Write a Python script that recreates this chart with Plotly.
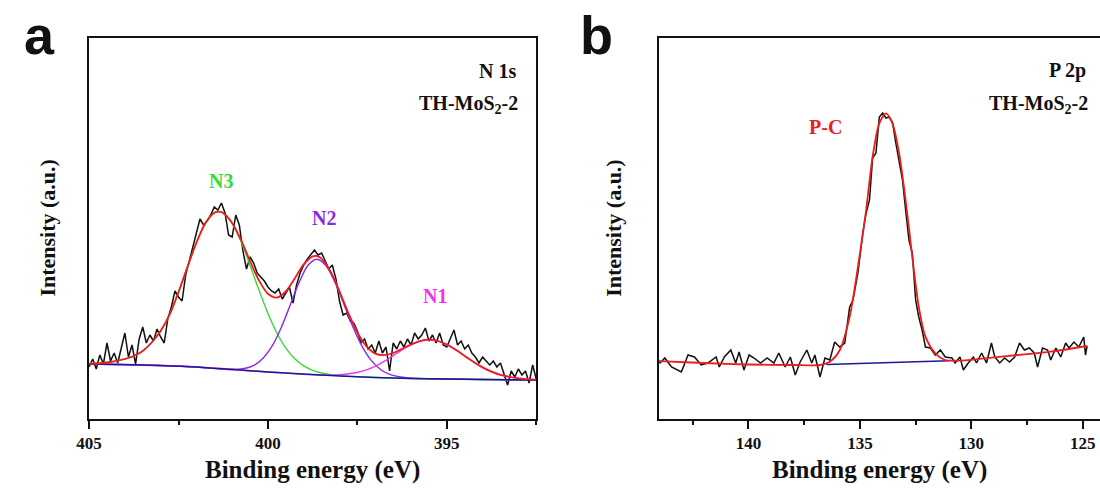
import numpy as np
import plotly.graph_objects as go

W, H = 1100, 492

# ---------------- Panel a : N 1s ----------------
a_energy = np.round(np.arange(405.0, 392.45, -0.1), 2)
a_counts = [52, 60, 50, 64, 55, 76, 58, 66, 56, 72,
            86, 62, 74, 55, 80, 92, 76, 84, 78, 90,
            82, 76, 100, 112, 128, 122, 118, 144, 158, 172,
            186, 200, 194, 198, 204, 212, 209, 216, 206, 184,
            182, 204, 194, 168, 150, 162, 156, 146, 142, 138,
            132, 128, 126, 130, 120, 126, 132, 116, 134, 146,
            154, 160, 164, 169, 164, 166, 158, 150, 154, 140,
            118, 104, 106, 98, 96, 88, 76, 80, 70, 74,
            66, 78, 66, 72, 48, 76, 70, 78, 72, 80,
            74, 86, 80, 84, 91, 78, 84, 76, 86, 74,
            72, 80, 89, 74, 78, 70, 74, 66, 62, 56,
            62, 58, 54, 58, 52, 56, 46, 34, 48, 42,
            50, 44, 48, 36, 54, 40]

a_base_e = [405.0, 404.0, 403.0, 402.0, 401.0, 400.0, 399.0, 398.0, 397.0, 396.0, 395.0, 394.0, 392.5]
a_base_v = [55, 54.5, 53.5, 52, 49.5, 47, 45, 43, 41.5, 40.5, 40, 39.5, 39]

a_n3_e = [405.0, 404.5, 404.0, 403.75, 403.5, 403.25, 403.0, 402.75, 402.5, 402.25, 402.0, 401.75,
          401.5, 401.37, 401.25, 401.0, 400.75, 400.5, 400.25, 400.0, 399.75, 399.5, 399.25, 399.0,
          398.75, 398.5, 398.25, 398.0, 397.5, 397.0, 396.0, 395.0, 394.0, 392.5]
a_n3_v = [55.2, 56.5, 60, 63, 68, 76.5, 88, 104.3, 126.9, 152, 176.3, 195.7,
          206.2, 207.4, 205.9, 195.5, 177.2, 153.6, 128.8, 105.5, 86, 70.9, 60.2, 53.1,
          48.7, 46, 44.4, 43.4, 42.3, 41.5, 40.5, 40, 39.5, 39]

a_n2_e = [405.0, 403.0, 402.0, 401.13, 400.63, 400.38, 400.13, 399.88, 399.63, 399.38, 399.13, 398.88,
          398.63, 398.38, 398.13, 397.88, 397.63, 397.38, 397.13, 396.88, 396.63, 396.13, 395.5, 394.0, 392.5]
a_n2_v = [55, 53.5, 52, 49.5, 50.7, 53.9, 61.1, 73.1, 91.3, 113.7, 136.5, 153.7,
          159.8, 153.5, 137, 115, 92.6, 73.4, 59.4, 50.3, 45.1, 41.2, 40.3, 39.5, 39]

a_n1_e = [405.0, 402.0, 400.0, 398.48, 397.98, 397.48, 397.23, 396.98, 396.73, 396.48, 396.23, 395.98,
          395.73, 395.48, 395.23, 394.98, 394.73, 394.48, 394.23, 393.98, 393.73, 393.48, 392.98, 392.5]
a_n1_v = [55, 52, 47, 43.7, 44.4, 46.8, 49.4, 53.2, 58.1, 63.8, 69.6, 74.6,
          78.1, 79.2, 77.8, 74.1, 68.8, 62.5, 56.5, 51.2, 47, 43.9, 40.6, 39.3]

a_fit_e = [405.0, 404.5, 404.0, 403.75, 403.5, 403.25, 403.0, 402.75, 402.5, 402.25, 402.0, 401.75,
           401.5, 401.37, 401.25, 401.0, 400.75, 400.5, 400.25, 400.0, 399.75, 399.5, 399.25, 399.0,
           398.75, 398.63, 398.5, 398.25, 398.0, 397.75, 397.5, 397.25, 397.0, 396.75, 396.5, 396.25,
           396.0, 395.75, 395.48, 395.25, 395.0, 394.75, 394.5, 394.25, 394.0, 393.75, 393.5, 393.0, 392.5]
a_fit_v = [55.2, 56.5, 60, 63, 68, 76.5, 88, 104.3, 126.9, 152, 176.3, 195.7,
           206.2, 207.4, 206.1, 196.1, 178.9, 158, 138.5, 125.2, 121.4, 127.5, 140.6, 154.6,
           162.6, 163, 160.2, 147.5, 127.7, 105.8, 86.5, 72.8, 65.4, 63.9, 66, 70.2,
           74.5, 77.9, 79.3, 78, 74.5, 69.2, 63.1, 57, 51.6, 47.3, 44.1, 40.7, 39.3]

# ---------------- Panel b : P 2p ----------------
b_energy = [144.10, 143.97, 143.75, 143.45, 143.01, 142.71, 142.42, 142.12, 141.82, 141.45, 141.31, 141.08,
            140.79, 140.57, 140.42, 140.20, 139.97, 139.75, 139.46, 139.16, 138.86, 138.64, 138.35, 138.12,
            137.90, 137.68, 137.38, 137.16, 137.02, 136.79, 136.57, 136.35, 136.13, 135.91, 135.68, 135.46,
            135.31, 135.09, 134.87, 134.72, 134.57, 134.43, 134.28, 134.13, 133.98, 133.83, 133.69, 133.54,
            133.39, 133.24, 133.09, 132.95, 132.80, 132.65, 132.50, 132.36, 132.21, 132.06, 131.84, 131.62,
            131.39, 131.17, 130.87, 130.73, 130.51, 130.36, 130.14, 129.91, 129.77, 129.54, 129.32, 129.10,
            128.95, 128.73, 128.51, 128.29, 128.06, 127.84, 127.62, 127.40, 127.18, 127.03, 126.81, 126.58,
            126.44, 126.21, 125.99, 125.77, 125.62, 125.40, 125.18, 124.96, 124.88, 124.81]
b_counts = [62, 56, 61, 52, 47, 64, 62, 54, 56, 62, 52, 62,
            69, 56, 67, 49, 64, 61, 56, 61, 56, 66, 52, 62,
            44, 57, 69, 56, 64, 42, 61, 59, 77, 72, 76, 112,
            119, 146, 186, 206, 219, 261, 266, 302, 306, 301, 302, 297,
            276, 259, 239, 209, 179, 166, 119, 102, 89, 72, 71, 64,
            69, 62, 61, 56, 62, 49, 56, 62, 56, 66, 56, 76,
            62, 56, 61, 57, 62, 76, 69, 71, 66, 52, 71, 69,
            59, 71, 62, 76, 71, 77, 72, 82, 64, 73]

b_fit_e = [144.1, 142.0, 140.0, 138.0, 136.8, 136.35, 135.9, 135.46, 135.02, 134.72, 134.43, 134.13,
           133.83, 133.54, 133.24, 132.95, 132.65, 132.36, 132.06, 131.62, 131.18, 130.59, 129.40, 127.92,
           126.44, 124.81]
b_fit_v = [58, 56, 54.5, 54, 54, 57.3, 69, 102.3, 162.3, 209, 262.3, 295.7,
           305.7, 295.7, 265.7, 219, 162.3, 112.3, 82.3, 65.7, 59, 58.3, 60.7, 64,
           67.3, 73]

b_base_e = [136.5, 131.0]
b_base_v = [54.5, 58.3]

# ---------------- colours ----------------
C_DATA = "#111111"
C_FIT = "#ee1c1c"
C_BASE = "#1a1a96"
C_N3 = "#33dd33"
C_N2 = "#8a2be2"
C_N1 = "#f033f0"

SERIF = "Liberation Serif"
SANS = "Liberation Sans"

fig = go.Figure()


def line(x, y, color, width, xa, ya, shape="linear"):
    kw = dict(color=color, width=width, shape=shape)
    if shape == "spline":
        kw["smoothing"] = 0.8
    fig.add_trace(go.Scatter(x=x, y=y, mode="lines", line=kw,
                             xaxis=xa, yaxis=ya, showlegend=False, hoverinfo="skip"))


# panel a
line(a_energy, a_counts, C_DATA, 1.5, "x", "y")
line(a_n3_e, a_n3_v, C_N3, 1.4, "x", "y", "spline")
line(a_n2_e, a_n2_v, C_N2, 1.4, "x", "y", "spline")
line(a_n1_e, a_n1_v, C_N1, 1.4, "x", "y", "spline")
line(a_base_e, a_base_v, C_BASE, 1.5, "x", "y", "spline")
line(a_fit_e, a_fit_v, C_FIT, 1.8, "x", "y", "spline")

# panel b
line(b_energy, b_counts, C_DATA, 1.5, "x2", "y2")
line(b_base_e, b_base_v, C_BASE, 1.5, "x2", "y2")
line(b_fit_e, b_fit_v, C_FIT, 1.8, "x2", "y2", "spline")

ytop, ybot = 38, 419
ydom = [1 - ybot / H, 1 - ytop / H]

tickfont = dict(family=SERIF, size=17, color="#111", weight="bold")
common_x = dict(showline=True, linecolor="#111", linewidth=2, ticks="outside", ticklen=8,
                tickwidth=2, tickcolor="#111", showgrid=False, zeroline=False, tickfont=tickfont,
                minor=dict(ticks="outside", ticklen=4, tickwidth=2, tickcolor="#111", dtick=2.5, showgrid=False))
common_y = dict(showline=True, linecolor="#111", linewidth=2, showticklabels=False, ticks="",
                showgrid=False, zeroline=False, range=[0, ybot - ytop])

fig.update_layout(
    width=W, height=H, margin=dict(l=0, r=0, t=0, b=0),
    paper_bgcolor="white", plot_bgcolor="white",
    xaxis=dict(domain=[77 / W, 529.5 / W], range=[405, 392.5], dtick=5, tick0=405,
               mirror=True, anchor="y", **common_x),
    yaxis=dict(domain=ydom, mirror=True, anchor="x", **common_y),
    xaxis2=dict(domain=[654 / W, 1.0], range=[144.0, 124.23], dtick=5, tick0=125,
                mirror=True, anchor="y2", **common_x),
    yaxis2=dict(domain=ydom, mirror=False, anchor="x2", **common_y),
)


def ann(text, x, y, size, color="#111", family=SERIF, xanchor="center", angle=0):
    fig.add_annotation(text=text, x=x / W, y=1 - y / H, xref="paper", yref="paper",
                       showarrow=False, xanchor=xanchor, yanchor="middle", textangle=angle,
                       font=dict(family=family, size=size, color=color, weight="bold"))


# panel letters
ann("a", 27, 35, 54, family=SANS)
ann("b", 590, 35, 54, family=SANS)

# top-right labels
ann("N 1s", 511, 71, 20, xanchor="right")
ann("TH-MoS<sub>2</sub>-2", 513, 104, 20, xanchor="right")
ann("P 2p", 1088, 71, 20, xanchor="right")
ann("TH-MoS<sub>2</sub>-2", 1090, 104, 20, xanchor="right")

# peak labels
ann("N3", 210, 181, 20, C_N3)
ann("N2", 315, 218, 20, C_N2)
ann("N1", 427, 296, 20, C_N1)
ann("P-C", 822, 127, 20, C_FIT)

# axis titles
ann("Binding energy (eV)", 303, 470, 25)
ann("Binding energy (eV)", 877, 470, 25)
ann("Intensity (a.u.)", 35, 228, 22, angle=-90)
ann("Intensity (a.u.)", 608, 228, 22, angle=-90)

fig.write_html("out.html")
